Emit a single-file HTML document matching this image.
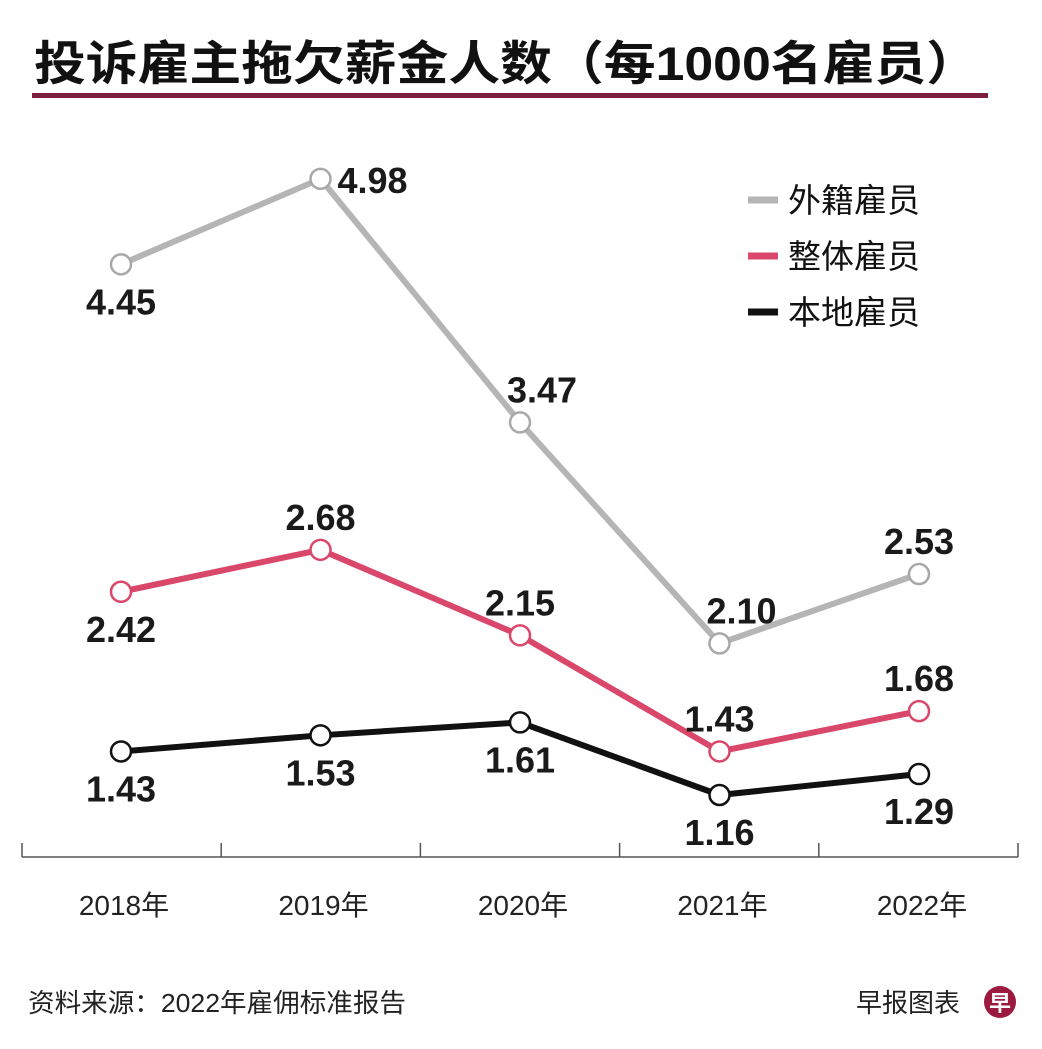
<!DOCTYPE html>
<html><head><meta charset="utf-8"><style>
html,body{margin:0;padding:0;background:#fff}
svg{display:block;font-family:"Liberation Sans","Noto Sans CJK SC",sans-serif}
</style></head><body>
<svg id="chart" width="1042" height="1049" viewBox="0 0 1042 1049">
<text x="34" y="80" font-size="47" font-weight="bold" fill="#111" textLength="944" lengthAdjust="spacingAndGlyphs">投诉雇主拖欠薪金人数（每1000名雇员）</text>
<rect x="32" y="93" width="956" height="5" fill="#7d1d3f"/>
<g id="axis"></g>
<g id="series"></g>
<g>
<line x1="748" y1="200" x2="778" y2="200" stroke="#b5b5b5" stroke-width="7"/>
<text x="788" y="212" font-size="33" fill="#111">外籍雇员</text>
<line x1="748" y1="256" x2="778" y2="256" stroke="#d9476b" stroke-width="7"/>
<text x="788" y="268" font-size="33" fill="#111">整体雇员</text>
<line x1="748" y1="312" x2="778" y2="312" stroke="#111" stroke-width="7"/>
<text x="788" y="324" font-size="33" fill="#111">本地雇员</text>
</g>
<text x="28" y="1012" font-size="26" fill="#222" textLength="378" lengthAdjust="spacingAndGlyphs">资料来源：2022年雇佣标准报告</text>
<text x="960" y="1012" font-size="26" fill="#222" text-anchor="end">早报图表</text>
<circle cx="1000" cy="1002" r="16" fill="#9b1b3e"/>
<text x="1000" y="1011" font-size="22" font-weight="bold" fill="#fff" text-anchor="middle">早</text>
</svg>
<script>
const categories = ["2018年","2019年","2020年","2021年","2022年"];
const foreignValues = [4.45,4.98,3.47,2.10,2.53];
const overallValues = [2.42,2.68,2.15,1.43,1.68];
const localValues = [1.43,1.53,1.61,1.16,1.29];
const foreignLabelPos = ["below","right","above-r","above-r","above"];
const overallLabelPos = ["below","above","above","above","above"];
const localLabelPos = ["below","below","below","below","below"];

const NS = "http://www.w3.org/2000/svg";
const x0 = 121, xStep = 199.5;
function xScale(i){ return x0 + i*xStep; }
function yScale(v){ return 795 - (v-1.16)*161.3; }
function mk(tag, attrs, parent){
  const el = document.createElementNS(NS, tag);
  for (const k in attrs) el.setAttribute(k, attrs[k]);
  parent.appendChild(el); return el;
}
const axis = document.getElementById('axis');
let l = mk('line',{x1:22,y1:857,x2:1018,y2:857,stroke:'#555','stroke-width':1.5},axis);


for (let i=0;i<=categories.length;i++){
  const tx = 22 + i*(996/categories.length);
  const t = mk('line',{x1:tx,y1:843,x2:tx,y2:857,stroke:'#555','stroke-width':1.5},axis);
  
  
}
categories.forEach((c,i)=>{
  const t = mk('text',{x:xScale(i)+3,y:915,'font-size':28,fill:'#222','text-anchor':'middle'},axis);
  t.textContent = c;
  
  
});
const g = document.getElementById('series');
function drawSeries(vals, color, markerStroke, pos, name){
  const pts = vals.map((v,i)=>xScale(i)+','+yScale(v)).join(' ');
  const pl = mk('polyline',{points:pts,fill:'none',stroke:color,'stroke-width':6,'stroke-linejoin':'round'},g);
  
  
  vals.forEach((v,i)=>{
    const cx = xScale(i), cy = yScale(v);
    const c = mk('circle',{cx:cx,cy:cy,r:10,fill:'#fff',stroke:markerStroke,'stroke-width':2.5},g);
    
    
    let lx = cx, ly = cy, anchor='middle';
    const p = pos[i];
    if (p==='below') ly = cy+50;
    else if (p==='above') ly = cy-20;
    else if (p==='above-r'){ ly = cy-20; lx = cx+22; }
    else if (p==='right'){ lx = cx+17; ly = cy+14; anchor='start'; }
    const t = mk('text',{x:lx,y:ly,'font-size':36,'font-weight':'bold',fill:'#1a1a1a','text-anchor':anchor},g);
    t.textContent = v.toFixed(2);
    
    
  });
}
drawSeries(foreignValues,'#b5b5b5','#a8a8a8',foreignLabelPos,'foreign');
drawSeries(overallValues,'#d9476b','#d9476b',overallLabelPos,'overall');
drawSeries(localValues,'#111','#111',localLabelPos,'local');
</script>
</body></html>
